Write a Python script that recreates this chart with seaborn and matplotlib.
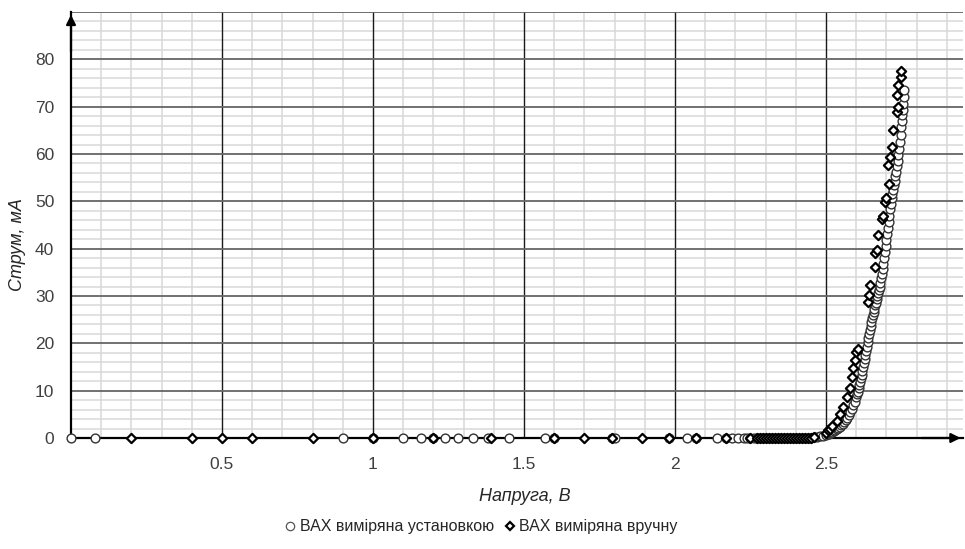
import numpy as np
import matplotlib
matplotlib.use('Agg')
import matplotlib.pyplot as plt
from matplotlib.ticker import MultipleLocator
from matplotlib.lines import Line2D
import seaborn as sns

# measured by the setup (open circles)
setup_volts = [0.00, 0.08, 0.90, 1.00, 1.10, 1.16, 1.20, 1.24, 1.28, 1.33,
               1.38, 1.45, 1.57, 1.60, 1.79, 1.80, 1.98, 2.04, 2.07, 2.14,
               2.17, 2.19, 2.21, 2.23, 2.24, 2.25, 2.26, 2.27, 2.28, 2.29,
               2.30, 2.31, 2.32, 2.33, 2.34, 2.35, 2.36, 2.37, 2.38, 2.39,
               2.40, 2.41, 2.42, 2.43, 2.44, 2.45, 2.46, 2.47, 2.48, 2.49,
               2.500, 2.505, 2.510, 2.515, 2.520, 2.525, 2.530, 2.535, 2.540, 2.545,
               2.550, 2.555, 2.560, 2.565, 2.570, 2.575, 2.580, 2.585, 2.590, 2.595,
               2.600, 2.603, 2.605, 2.608, 2.610, 2.613, 2.615, 2.618, 2.620, 2.623,
               2.625, 2.628, 2.630, 2.633, 2.635, 2.638, 2.640, 2.643, 2.645, 2.648,
               2.650, 2.653, 2.655, 2.658, 2.660, 2.663, 2.665, 2.668, 2.670, 2.673,
               2.675, 2.678, 2.680, 2.683, 2.685, 2.688, 2.690, 2.693, 2.695, 2.698,
               2.700, 2.703, 2.705, 2.708, 2.710, 2.713, 2.715, 2.718, 2.720, 2.723,
               2.725, 2.728, 2.730, 2.733, 2.735, 2.738, 2.740, 2.743, 2.745, 2.748,
               2.750, 2.752, 2.753, 2.755, 2.756, 2.758, 2.759]
setup_current = [0, 0, 0, 0, 0, 0, 0, 0, 0, 0,
                 0, 0, 0, 0, 0, 0, 0, 0, 0, 0,
                 0, 0, 0, 0, 0, 0, 0, 0, 0, 0,
                 0, 0, 0, 0, 0, 0, 0, 0, 0, 0,
                 0, 0, 0, 0, 0, 0.1, 0.2, 0.3, 0.4, 0.5,
                 0.7, 0.8, 0.9, 1.0, 1.2, 1.4, 1.6, 1.8, 2.1, 2.4,
                 2.7, 3.0, 3.4, 3.8, 4.3, 4.9, 5.5, 6.2, 6.9, 7.7,
                 8.6, 9.2, 9.8, 10.5, 11.2, 11.9, 12.6, 13.4, 14.2, 15.0,
                 15.8, 16.6, 17.5, 18.4, 19.3, 20.2, 21.1, 22.0, 22.9, 23.7,
                 24.5, 25.3, 26.0, 26.7, 27.3, 28.0, 28.6, 29.3, 30.0, 30.7,
                 31.3, 32.0, 32.8, 33.7, 34.6, 35.7, 36.8, 38.0, 39.2, 40.5,
                 41.8, 43.1, 44.4, 45.7, 47.0, 48.3, 49.5, 50.6, 51.6, 52.5,
                 53.4, 54.3, 55.3, 56.3, 57.4, 58.6, 59.8, 61.1, 62.5, 64.1,
                 65.8, 67.0, 68.2, 69.4, 70.6, 72.0, 73.5]

# measured by hand (diamonds)
manual_volts = [0.20, 0.40, 0.50, 0.60, 0.80, 1.00, 1.20, 1.39, 1.60, 1.70,
                1.79, 1.89, 1.98, 2.07, 2.17, 2.25, 2.27, 2.28, 2.29, 2.30,
                2.31, 2.32, 2.33, 2.34, 2.35, 2.36, 2.37, 2.38, 2.39, 2.40,
                2.41, 2.42, 2.43, 2.44, 2.45, 2.46,
                2.500, 2.507, 2.513, 2.520, 2.535, 2.545, 2.557, 2.568, 2.579, 2.585,
                2.590, 2.596, 2.601, 2.606, 2.640, 2.643, 2.646, 2.662, 2.662, 2.668,
                2.673, 2.684, 2.690, 2.695, 2.700, 2.709, 2.706, 2.712, 2.717, 2.723,
                2.736, 2.739, 2.736, 2.739, 2.750, 2.747]
manual_current = [0, 0, 0, 0, 0, 0, 0, 0, 0, 0,
                  0, 0, 0, 0, 0, 0, 0, 0, 0, 0,
                  0, 0, 0, 0, 0, 0, 0, 0, 0, 0,
                  0, 0, 0, 0, 0.1, 0.2,
                  1.0, 1.7, 2.0, 2.6, 3.6, 5.0, 6.6, 8.7, 10.5, 12.9,
                  14.7, 16.5, 18.2, 18.9, 28.8, 30.2, 32.3, 36.2, 39.0, 39.7,
                  42.8, 46.3, 47.0, 49.9, 50.6, 53.7, 57.6, 59.4, 61.5, 65.0,
                  68.9, 69.9, 72.4, 74.5, 76.2, 77.6]

x_ticks = [0.5, 1, 1.5, 2, 2.5]
y_ticks = [0, 10, 20, 30, 40, 50, 60, 70, 80]
y_major_lines = [10, 20, 30, 40, 50, 60, 70, 80, 90]

label_setup = 'ВАХ виміряна установкою'
label_manual = 'ВАХ виміряна вручну'

sns.set_style('white')
plt.rcParams['font.family'] = ['Liberation Sans Narrow', 'Liberation Sans', 'DejaVu Sans']

fig = plt.figure(figsize=(9.65, 5.49), dpi=100)
ax = fig.add_axes([71 / 965, 111 / 549, 892.4 / 965, 426 / 549])

# light minor grid, darker major lines drawn on top of it
ax.xaxis.set_minor_locator(MultipleLocator(0.1))
ax.yaxis.set_minor_locator(MultipleLocator(2))
ax.set_xticks(x_ticks)
ax.set_yticks(y_ticks)
ax.grid(which='minor', color='#d9d9d9', lw=1.1, zorder=0.5)
ax.set_axisbelow(True)
for xv in x_ticks:
    ax.axvline(xv, color='#1a1a1a', lw=1.0, zorder=1)
for yv in y_major_lines:
    ax.axhline(yv, color='#666666', lw=1.3, zorder=1)

sns.scatterplot(x=setup_volts, y=setup_current, ax=ax, marker='o', s=40,
                facecolor='white', edgecolor='#333333', linewidth=1.0,
                clip_on=False, zorder=3)
sns.scatterplot(x=manual_volts, y=manual_current, ax=ax, marker='D', s=22,
                facecolor='white', edgecolor='black', linewidth=1.6,
                clip_on=False, zorder=4)

ax.set_xlim(0, 2.955)
ax.set_ylim(0, 90)

ax.set_xticklabels([f'{t:g}' for t in x_ticks])
ax.set_yticklabels([str(t) for t in y_ticks])
ax.tick_params(axis='both', length=0, labelsize=12.5, colors='#404040')
ax.tick_params(axis='x', pad=14)
ax.tick_params(axis='y', pad=12)

for side in ['top', 'right']:
    ax.spines[side].set_visible(False)
for side in ['left', 'bottom']:
    ax.spines[side].set_color('black')
    ax.spines[side].set_linewidth(1.6)
    ax.spines[side].set_zorder(2.5)

# arrow heads on the axes
ax.annotate('', xy=(0, 1.0), xytext=(0, 0.9), xycoords='axes fraction',
            arrowprops=dict(arrowstyle='-|>', color='black', lw=1.6, mutation_scale=14))
ax.annotate('', xy=(1.0, 0), xytext=(0.95, 0), xycoords='axes fraction',
            arrowprops=dict(arrowstyle='-|>', color='black', lw=1.6, mutation_scale=14))

ax.set_xlabel('Напруга, В', fontsize=13, style='italic', color='#262626')
ax.set_ylabel('Струм, мА', fontsize=13, style='italic', color='#262626')
ax.xaxis.set_label_coords(0.508, -0.118)
ax.yaxis.set_label_coords(-0.05, 0.453)

handles = [
    Line2D([], [], ls='none', marker='o', ms=6, mfc='white', mec='#555555', mew=0.9),
    Line2D([], [], ls='none', marker='D', ms=4.5, mfc='white', mec='black', mew=1.6),
]
fig.legend(handles, [label_setup, label_manual], loc='center', ncol=2,
           bbox_to_anchor=(480 / 965, 1 - 527 / 549), frameon=False,
           fontsize=11.5, handletextpad=0.1, columnspacing=0.5, handlelength=1.0)

fig.savefig('out.png', dpi=100)
